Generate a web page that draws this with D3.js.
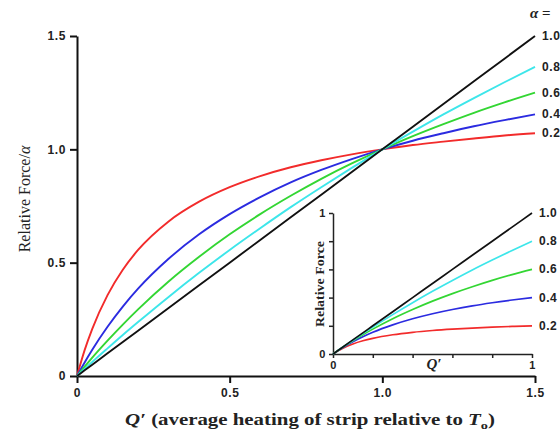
<!DOCTYPE html>
<html>
<head>
<meta charset="utf-8">
<script src="https://cdn.jsdelivr.net/npm/d3@7"></script>
<style>
  body { margin: 0; background: #fff; }
  svg { display: block; }
  .tick text { font-family: "Liberation Sans", Arial, sans-serif; font-weight: bold; font-size: 12px; letter-spacing: 0.6px; fill: #222; }
  .serif { font-family: "Liberation Serif", "Times New Roman", serif; }
</style>
</head>
<body>
<svg id="chart" width="560" height="432"></svg>
<script>
// Q' sample points
const qValues = [0, 0.025, 0.05, 0.1, 0.15, 0.2, 0.3, 0.4, 0.5, 0.6, 0.7, 0.8, 0.9, 1.0, 1.1, 1.2, 1.3, 1.4, 1.5];
// Relative Force / alpha for each alpha
const force02 = [0, 0.114, 0.208, 0.357, 0.469, 0.556, 0.682, 0.769, 0.833, 0.882, 0.921, 0.952, 0.978, 1, 1.019, 1.034, 1.048, 1.061, 1.071];
const force04 = [0, 0.060, 0.116, 0.217, 0.306, 0.385, 0.517, 0.625, 0.714, 0.789, 0.854, 0.909, 0.957, 1, 1.038, 1.071, 1.102, 1.129, 1.154];
const force06 = [0, 0.041, 0.081, 0.156, 0.227, 0.294, 0.417, 0.526, 0.625, 0.714, 0.795, 0.870, 0.938, 1, 1.058, 1.111, 1.161, 1.207, 1.25];
const force08 = [0, 0.031, 0.062, 0.122, 0.181, 0.238, 0.349, 0.455, 0.556, 0.652, 0.745, 0.833, 0.918, 1, 1.078, 1.154, 1.226, 1.296, 1.364];
const force10 = [0, 0.025, 0.05, 0.1, 0.15, 0.2, 0.3, 0.4, 0.5, 0.6, 0.7, 0.8, 0.9, 1.0, 1.1, 1.2, 1.3, 1.4, 1.5];
const alphas = [0.2, 0.4, 0.6, 0.8, 1.0];
const alphaLabels = ["0.2", "0.4", "0.6", "0.8", "1.0"];
const mainTicks = [0, 0.5, 1.0, 1.5];
const mainTickLabels = ["0", "0.5", "1.0", "1.5"];
const insetTicks = [0, 0.2, 0.4, 0.6, 0.8, 1];

const colors = ["#f22b2b", "#2b2be0", "#33d633", "#3de6ea", "#111"];
const series = [force02, force04, force06, force08, force10].map((vals, i) => ({
  alpha: alphas[i],
  label: alphaLabels[i],
  color: colors[i],
  points: qValues.map((q, j) => ({ q: q, f: vals[j] }))
}));

const svg = d3.select("#chart");

// main chart
const x = d3.scaleLinear().domain([0, 1.5]).range([77, 535]);
const y = d3.scaleLinear().domain([0, 1.5]).range([376, 36]);

svg.append("g")
  .attr("transform", "translate(0,376)")
  .call(d3.axisBottom(x).tickValues(mainTicks).tickFormat((d, i) => mainTickLabels[i]).tickSize(7).tickPadding(5).tickSizeOuter(0))
  .call(g => g.selectAll("line, path").attr("stroke", "#111").attr("stroke-width", 2));

svg.append("g")
  .attr("transform", "translate(77,0)")
  .call(d3.axisLeft(y).tickValues(mainTicks).tickFormat((d, i) => mainTickLabels[i]).tickSize(7).tickPadding(4).tickSizeOuter(0))
  .call(g => g.selectAll("line, path").attr("stroke", "#111").attr("stroke-width", 2));

const line = d3.line().x(d => x(d.q)).y(d => y(d.f)).curve(d3.curveMonotoneX);

svg.append("g").selectAll("path")
  .data(series)
  .join("path")
  .attr("d", d => line(d.points))
  .attr("fill", "none")
  .attr("stroke", d => d.color)
  .attr("stroke-width", 1.9);

svg.append("g").selectAll("text")
  .data(series)
  .join("text")
  .attr("x", 542)
  .attr("y", d => y(d.points[d.points.length - 1].f) + 4)
  .attr("font-family", "Liberation Sans, Arial, sans-serif")
  .attr("font-weight", "bold")
  .attr("font-size", 12)
  .attr("letter-spacing", 0.6)
  .attr("fill", "#222")
  .text(d => d.label);

svg.append("text")
  .attr("class", "serif")
  .attr("x", 530)
  .attr("y", 18)
  .attr("font-weight", "bold")
  .attr("font-size", 15)
  .attr("fill", "#222")
  .html('<tspan font-style="italic">α</tspan> =');

// axis titles
svg.append("text")
  .attr("class", "serif")
  .attr("transform", "translate(30,199) rotate(-90)")
  .attr("text-anchor", "middle")
  .attr("font-size", 16)
  .attr("fill", "#222")
  .html('Relative Force/<tspan font-style="italic">α</tspan>');

svg.append("text")
  .attr("class", "serif")
  .attr("x", 125)
  .attr("y", 425)
  .attr("font-size", 16)
  .attr("font-weight", "bold")
  .attr("fill", "#222")
  .attr("textLength", 370)
  .attr("lengthAdjust", "spacingAndGlyphs")
  .html('<tspan font-style="italic">Q′</tspan> (average heating of strip relative to <tspan font-style="italic">T</tspan><tspan font-size="11" dy="4">o</tspan><tspan dy="-4">)</tspan>');

// inset: relative force (not divided by alpha), Q' from 0 to 1
const ix = d3.scaleLinear().domain([0, 1]).range([333, 532]);
const iy = d3.scaleLinear().domain([0, 1]).range([354, 213]);
const inset = svg.append("g");

inset.append("g")
  .attr("transform", "translate(0,354)")
  .call(d3.axisBottom(ix).tickValues(insetTicks).tickFormat(d => (d === 0 || d === 1) ? d : "").tickSize(4).tickPadding(3).tickSizeOuter(0))
  .call(g => g.selectAll("line, path").attr("stroke", "#222").attr("stroke-width", 1.5))
  .call(g => g.selectAll("text").style("font-size", "11px"));

inset.append("g")
  .attr("transform", "translate(333,0)")
  .call(d3.axisLeft(iy).tickValues(insetTicks).tickFormat(d => (d === 0 || d === 1) ? d : "").tickSize(4).tickPadding(3).tickSizeOuter(0))
  .call(g => g.selectAll("line, path").attr("stroke", "#222").attr("stroke-width", 1.5))
  .call(g => g.selectAll("text").style("font-size", "11px"));

const insetLine = d3.line().x(d => ix(d.q)).y(d => iy(d.f)).curve(d3.curveMonotoneX);

inset.append("g").selectAll("path")
  .data(series)
  .join("path")
  .attr("d", d => insetLine(d.points.filter(p => p.q <= 1).map(p => ({ q: p.q, f: p.f * d.alpha }))))
  .attr("fill", "none")
  .attr("stroke", d => d.color)
  .attr("stroke-width", 1.7);

inset.append("g").selectAll("text")
  .data(series)
  .join("text")
  .attr("x", 539)
  .attr("y", d => iy(d.alpha) + 4)
  .attr("font-family", "Liberation Sans, Arial, sans-serif")
  .attr("font-weight", "bold")
  .attr("font-size", 12)
  .attr("letter-spacing", 0.5)
  .attr("fill", "#222")
  .text(d => d.label);

inset.append("text")
  .attr("class", "serif")
  .attr("transform", "translate(324,284) rotate(-90)")
  .attr("text-anchor", "middle")
  .attr("font-size", 13)
  .attr("font-weight", "bold")
  .attr("fill", "#222")
  .attr("textLength", 86)
  .attr("lengthAdjust", "spacingAndGlyphs")
  .text("Relative Force");

inset.append("text")
  .attr("class", "serif")
  .attr("x", 434)
  .attr("y", 369)
  .attr("text-anchor", "middle")
  .attr("font-size", 15)
  .attr("font-weight", "bold")
  .attr("font-style", "italic")
  .attr("fill", "#222")
  .text("Q′");
</script>
</body>
</html>
